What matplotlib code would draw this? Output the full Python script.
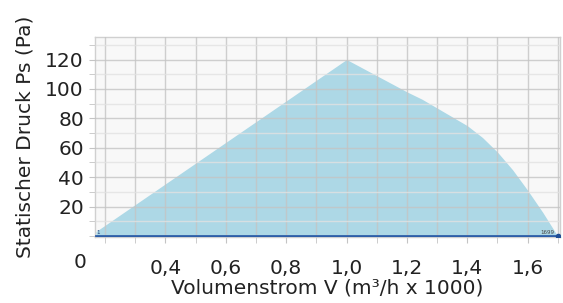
import matplotlib.pyplot as plt
from matplotlib.ticker import MultipleLocator

# fan curve
flow = [0.17, 1.0, 1.1, 1.2, 1.25, 1.3, 1.35, 1.4, 1.45, 1.5, 1.55, 1.6, 1.65, 1.699]
pressure = [3, 120, 109, 98, 93, 87, 81, 75, 67, 57, 45, 31, 16, 0]

x_ticks = [0.4, 0.6, 0.8, 1.0, 1.2, 1.4, 1.6]
x_labels = ['0,4', '0,6', '0,8', '1,0', '1,2', '1,4', '1,6']
y_ticks = [20, 40, 60, 80, 100, 120]

start_label = '1'
end_label = '1699'

fig = plt.figure(figsize=(5.63, 3.03), dpi=100)
ax = fig.add_axes([95 / 563, 1 - 237 / 303, 465 / 563, 200 / 303])
ax.set_facecolor('#f8f8f8')

ax.fill_between(flow, pressure, 0, color='#add8e6', lw=0, zorder=2)
ax.plot([flow[0], flow[-1]], [0, 0], color='#2d5ea8', lw=2, zorder=4)
ax.plot([flow[-1]], [0], 'o', color='#1f4e96', ms=3, zorder=5)

ax.text(flow[0] + 0.003, 1.5, start_label, fontsize=4, color='#1f3f7a', zorder=6)
ax.text(flow[-1] - 0.01, 1.5, end_label, fontsize=4, color='#444444', ha='right', zorder=6)

ax.set_xlim(0.167, 1.707)
ax.set_ylim(-0.7, 135.3)

ax.set_xticks(x_ticks)
ax.set_xticklabels(x_labels)
ax.xaxis.set_minor_locator(MultipleLocator(0.1))
ax.set_yticks(y_ticks)
ax.yaxis.set_minor_locator(MultipleLocator(10))

ax.grid(which='major', color='#c4c4c4', lw=1, alpha=0.8, zorder=3)
ax.grid(which='minor', axis='x', color='#c4c4c4', lw=1, alpha=0.8, zorder=3)
ax.grid(which='minor', axis='y', color='#e2e2e2', lw=1, alpha=0.8, zorder=3)
ax.set_axisbelow(False)

ax.tick_params(which='both', length=4, color='#c4c4c4', labelsize=14.5, labelcolor='#222222')
ax.tick_params(axis='x', which='both', pad=12)
ax.tick_params(axis='y', pad=4)

for side in ax.spines:
    ax.spines[side].set_color('#d0d0d0')
    ax.spines[side].set_linewidth(1)

ax.set_xlabel('Volumenstrom V (m³/h x 1000)', fontsize=14.5, color='#222222', labelpad=0)
ax.set_ylabel('Statischer Druck Ps (Pa)', fontsize=14.5, color='#222222', labelpad=8)

fig.text(80 / 563, 1 - 263 / 303, '0', fontsize=14.5, color='#222222', ha='center', va='center')

fig.savefig('out.png', dpi=100)
